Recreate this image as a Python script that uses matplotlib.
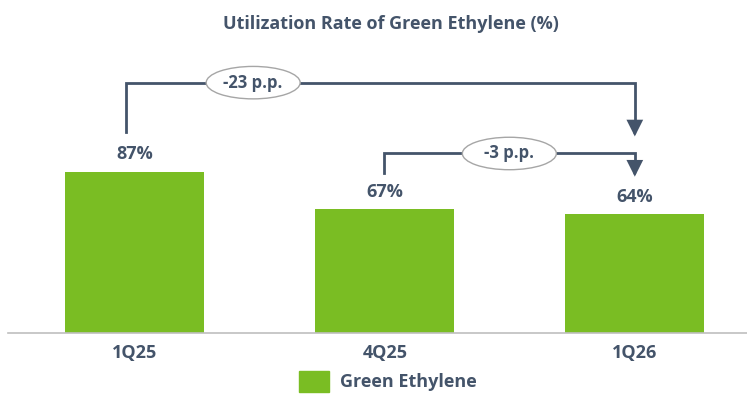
import matplotlib.pyplot as plt
from matplotlib.patches import Ellipse, Patch

quarters = ['1Q25', '4Q25', '1Q26']
utilization = [87, 67, 64]

# brackets: (from bar, to bar, label)
brackets = [(0, 2, '-23 p.p.'), (1, 2, '-3 p.p.')]

green = '#7ABD23'
slate = '#44546A'

plt.rcParams['font.family'] = ['Open Sans', 'DejaVu Sans']
plt.rcParams['font.weight'] = 'bold'

fig = plt.figure(figsize=(7.47, 3.94), dpi=100)
ax = fig.add_axes([0.0107, 0.1548, 0.989, 0.7437])

x = list(range(len(quarters)))
ax.bar(x, utilization, width=0.556, color=green, zorder=2)
ax.set_xlim(-0.508, 2.448)
ax.set_ylim(0, 158)

for i, v in zip(x, utilization):
    ax.text(i, v + 9.3, f'{v}%', ha='center', va='center', fontsize=13,
            color=slate, fontweight='bold')

for s in ['top', 'left', 'right']:
    ax.spines[s].set_visible(False)
ax.spines['bottom'].set_color('#BFBFBF')
ax.spines['bottom'].set_linewidth(1.2)
ax.set_yticks([])
ax.set_xticks(x)
ax.set_xticklabels(quarters, fontsize=13, color=slate, fontweight='bold')
ax.tick_params(axis='x', length=0, pad=8)

# bracket geometry in data units: start gap above bar, line level, arrow stop
geom = [(21.6, 135.0, 106.0, 0.25, -0.036), (19.5, 96.8, 84.3, 0.5, -0.004)]
for (a, b, label), (gap, level, stop, frac, dx) in zip(brackets, geom):
    x0 = a + dx
    x1 = b
    ax.plot([x0, x0, x1, x1], [utilization[a] + gap, level, level, stop + 4],
            color=slate, lw=2, solid_joinstyle='miter', zorder=3)
    ax.annotate('', xy=(x1, stop), xytext=(x1, stop + 5),
                arrowprops=dict(arrowstyle='-|>', color=slate, lw=2,
                                mutation_scale=22, shrinkA=0, shrinkB=0,
                                joinstyle='miter'), zorder=3)
    xm = x0 + frac * (x1 - x0)
    ax.add_patch(Ellipse((xm, level), 0.376, 17.5, facecolor='white',
                         edgecolor='#A6A6A6', lw=1, zorder=4))
    ax.text(xm, level, label, ha='center', va='center', fontsize=12,
            color=slate, fontweight='bold', zorder=5)

fig.text(391 / 747, 1 - 24 / 394, 'Utilization Rate of Green Ethylene (%)',
         ha='center', va='center', fontsize=13, color=slate, fontweight='bold')

fig.legend(handles=[Patch(color=green, label='Green Ethylene')],
           loc='lower center', bbox_to_anchor=(0.519, -0.035), frameon=False,
           handlelength=1.7, handleheight=1.4, handletextpad=0.6,
           prop={'size': 13, 'weight': 'bold'}, labelcolor=slate)

fig.savefig('out.png', dpi=100)
